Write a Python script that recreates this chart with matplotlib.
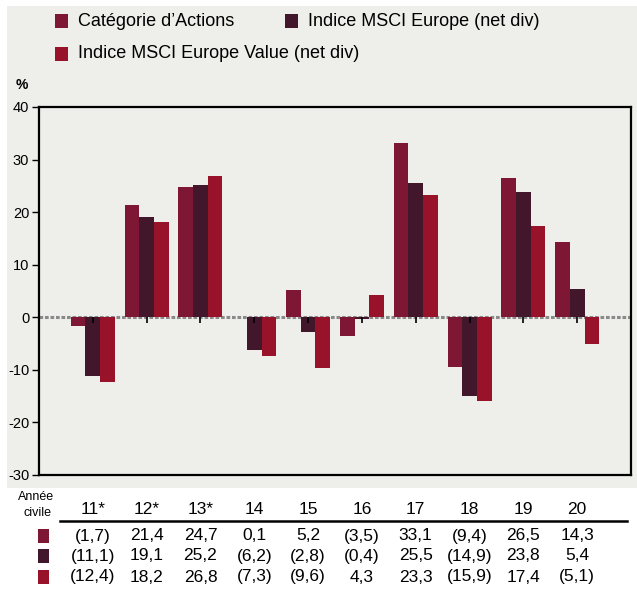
import matplotlib
matplotlib.use('Agg')
import matplotlib.pyplot as plt
import matplotlib.transforms as mtransforms
from matplotlib.patches import Rectangle
import numpy as np

plt.rcParams['font.family'] = ['Liberation Sans Narrow', 'Liberation Sans', 'DejaVu Sans']
plt.rcParams['axes.unicode_minus'] = False

# ── Data ──────────────────────────────────────────────────────────────────
years = ['11*', '12*', '13*', '14', '15', '16', '17', '18', '19', '20']
categorie = [-1.7, 21.4, 24.7, 0.1, 5.2, -3.5, 33.1, -9.4, 26.5, 14.3]
msci_europe = [-11.1, 19.1, 25.2, -6.2, -2.8, -0.4, 25.5, -14.9, 23.8, 5.4]
msci_value = [-12.4, 18.2, 26.8, -7.3, -9.6, 4.3, 23.3, -15.9, 17.4, -5.1]
series_names = ["Catégorie d’Actions",
                "Indice MSCI Europe (net div)",
                "Indice MSCI Europe Value (net div)"]
colors = ['#7e1734', '#42172b', '#98132a']
bg = '#eeeeea'

W, H = 637, 589
fig = plt.figure(figsize=(W / 100, H / 100), dpi=100)
fig.patch.set_facecolor('white')

# grey panel behind legend + chart
fig.patches.append(Rectangle((7 / W, 1 - 488 / H), 1 - 7 / W, (488 - 6) / H,
                             transform=fig.transFigure, facecolor=bg,
                             edgecolor='none', zorder=-5))

ax = fig.add_axes([39 / W, 1 - 475 / H, (631 - 39) / W, (475 - 107) / H])
ax.set_facecolor(bg)

x = np.arange(len(years))
w = 0.272
for i, vals in enumerate([categorie, msci_europe, msci_value]):
    ax.bar(x + (i - 1) * w, vals, width=w, color=colors[i], zorder=3)

ax.set_xlim(-1, 10)
ax.set_ylim(-30, 40)
ax.set_yticks(range(-30, 41, 10))
ax.tick_params(axis='y', direction='out', length=5, width=1, labelsize=10.5,
               pad=2)
ax.set_xticks([])

# dotted zero line and small category ticks under it
ax.axhline(0, color='#8a8a8a', lw=2.2, linestyle=(0, (1.2, 0.6)), zorder=2)
ax.vlines(x, -1.1, 0, color='black', lw=1.2, zorder=4)

for s in ax.spines.values():
    s.set_linewidth(1.6)
    s.set_color('black')

fig.text(22 / W, 1 - 85 / H, '%', fontsize=10, fontweight='bold',
         ha='center', va='center')

# ── Legend (manual) ──────────────────────────────────────────────────────
leg = [(55, 21, 0), (285, 21, 1), (55, 54, 2)]
for lx, ly, i in leg:
    fig.patches.append(Rectangle((lx / W, 1 - (ly + 7) / H), 13 / W, 14 / H,
                                 transform=fig.transFigure,
                                 facecolor=colors[i], edgecolor='none'))
    fig.text((lx + 23) / W, 1 - ly / H, series_names[i], fontsize=13,
             ha='left', va='center')

# ── Table under chart ────────────────────────────────────────────────────
trans = mtransforms.blended_transform_factory(ax.transData, fig.transFigure)
fig.text(36 / W, 1 - 497 / H, 'Année', fontsize=9, ha='center', va='center')
fig.text(37 / W, 1 - 513 / H, 'civile', fontsize=9, ha='center', va='center')
for xi, yr in zip(x, years):
    fig.text(xi, 1 - 510 / H, yr, fontsize=12.5, ha='center', va='center',
             transform=trans)
fig.add_artist(plt.Line2D([60 / W, 627 / W], [1 - 521 / H, 1 - 521 / H],
                          transform=fig.transFigure, color='black', lw=1.8))


def fmt(v):
    s = f"{abs(v):.1f}".replace('.', ',')
    return f"({s})" if v < 0 else s


rows_y = [536, 556, 577]
for i, vals in enumerate([categorie, msci_europe, msci_value]):
    ry = rows_y[i]
    fig.patches.append(Rectangle((38 / W, 1 - (ry + 7) / H), 11 / W, 14 / H,
                                 transform=fig.transFigure,
                                 facecolor=colors[i], edgecolor='none'))
    for xi, v in zip(x, vals):
        fig.text(xi, 1 - ry / H, fmt(v), fontsize=12.5, ha='center',
                 va='center', transform=trans)

fig.savefig('out.png', dpi=100, facecolor='white')
